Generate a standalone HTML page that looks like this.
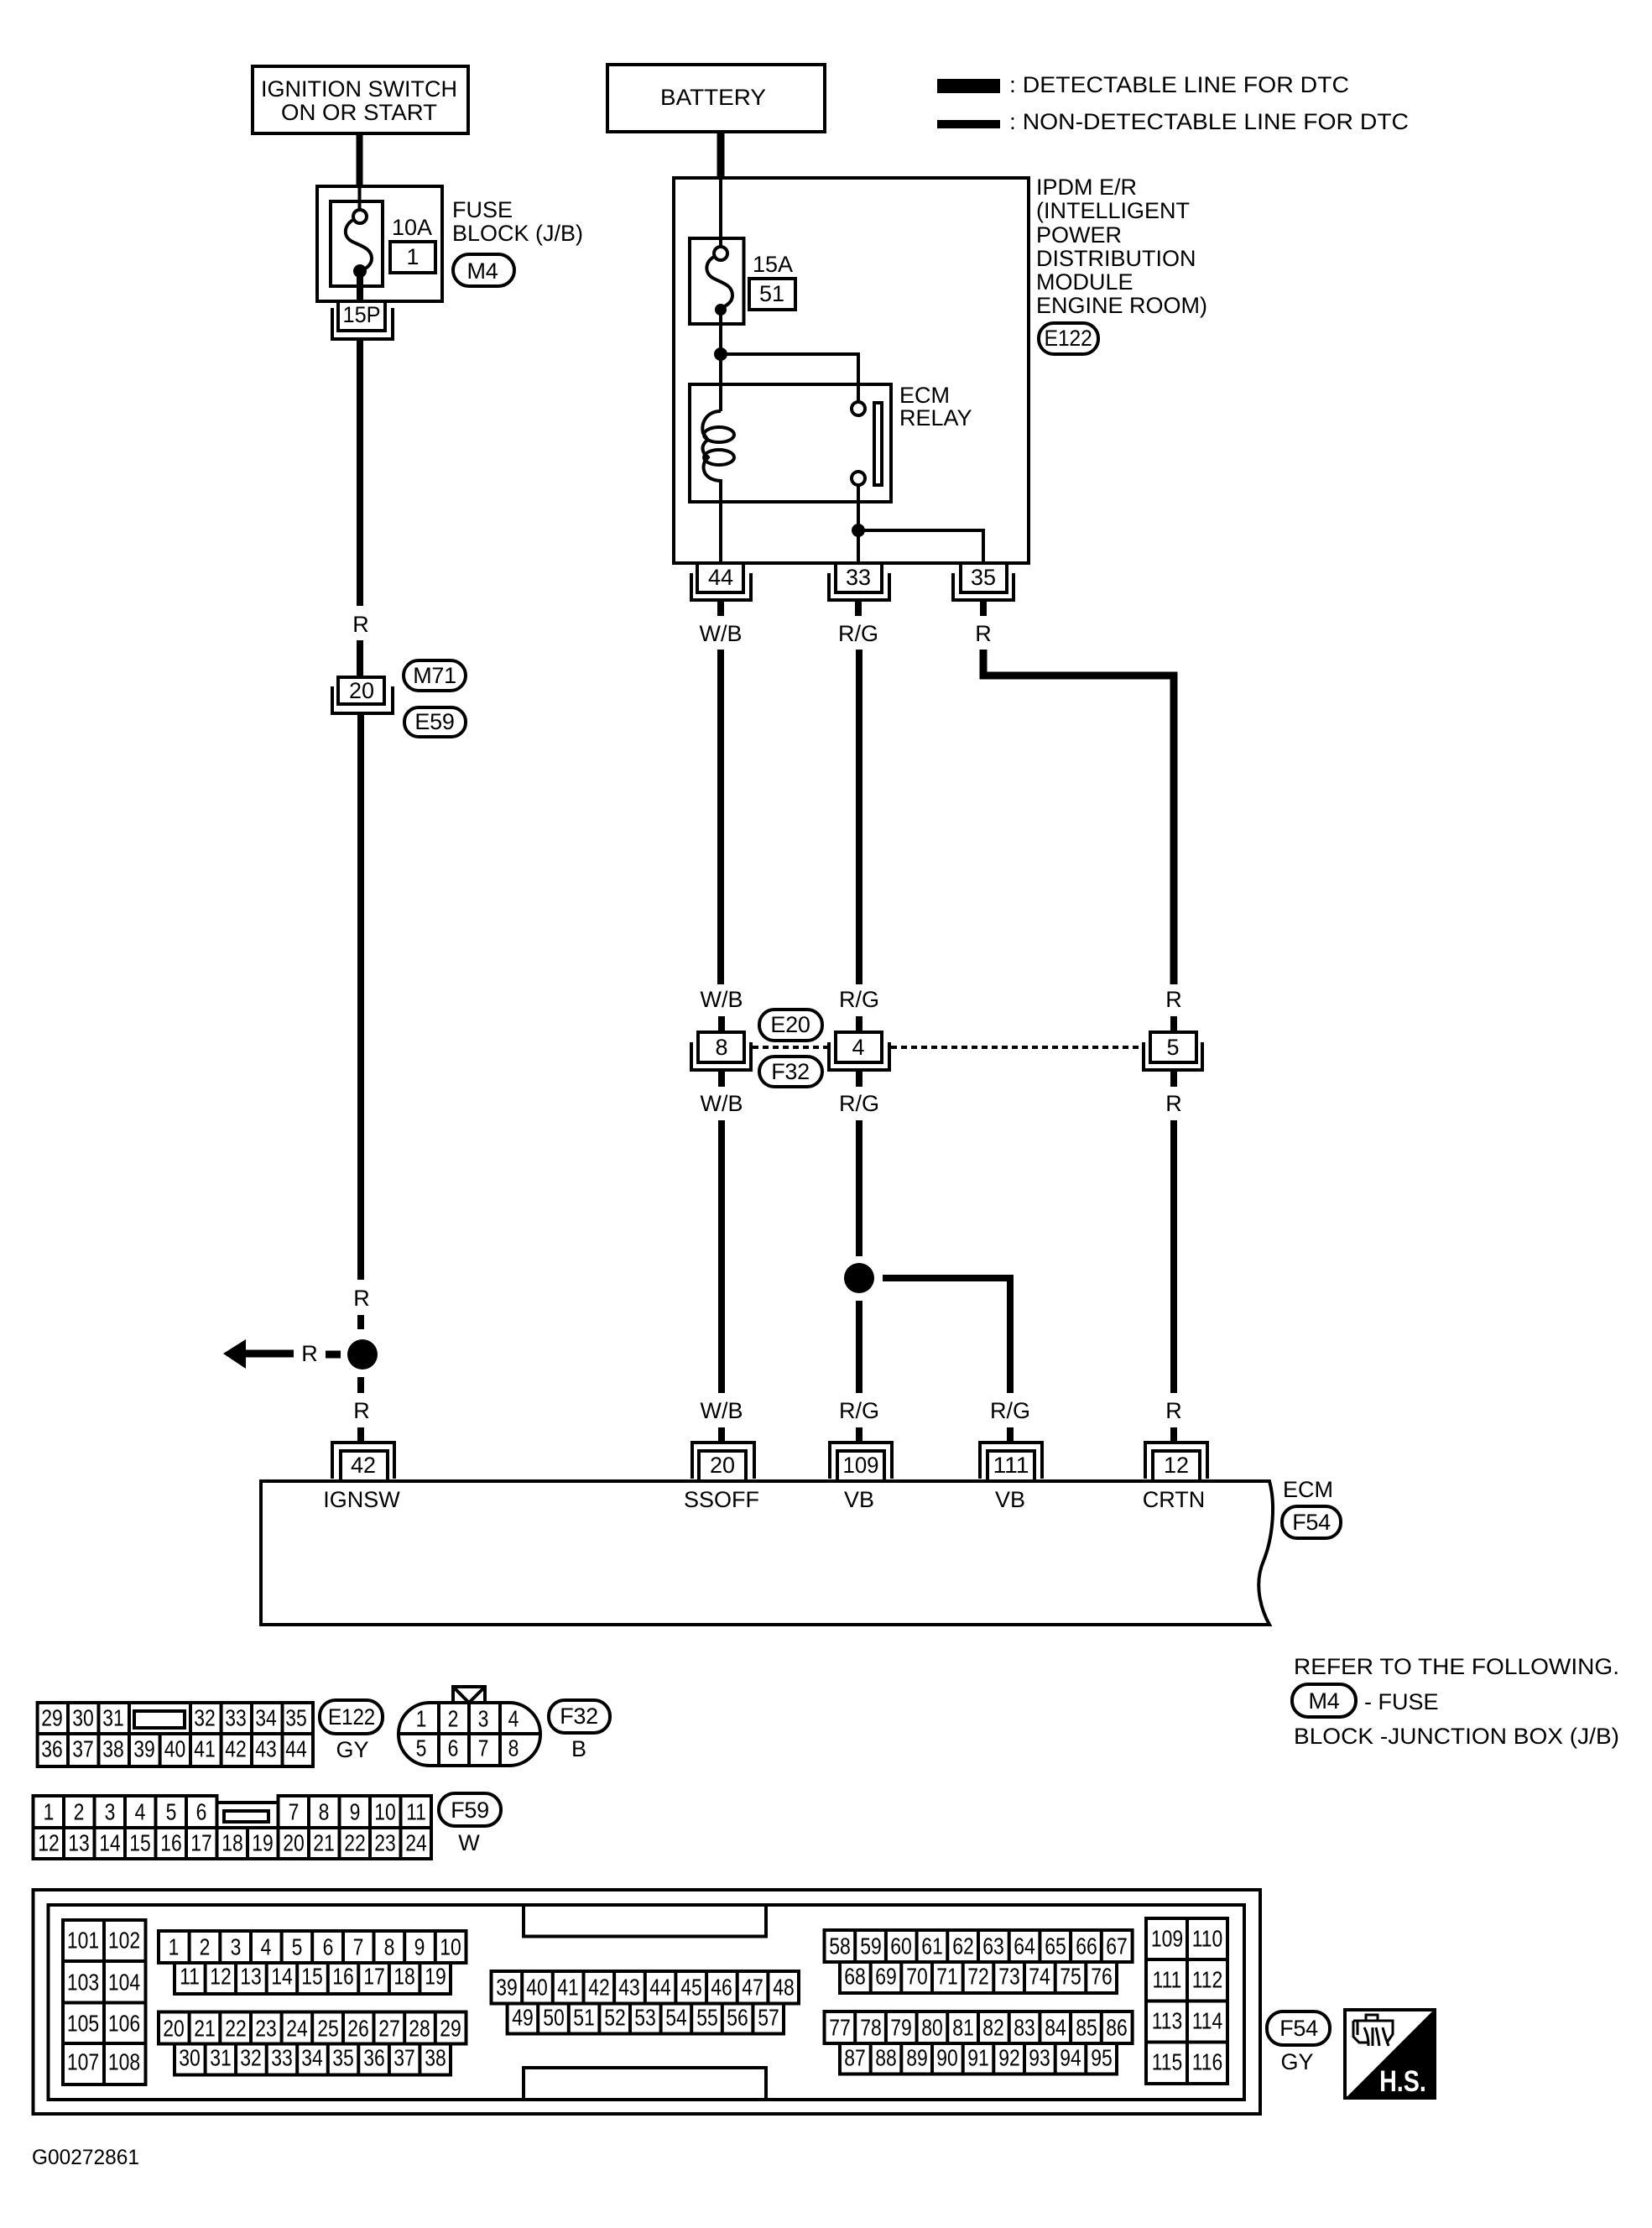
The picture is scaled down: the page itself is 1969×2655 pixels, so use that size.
<!DOCTYPE html>
<html>
<head>
<meta charset="utf-8">
<style>
html,body{margin:0;padding:0;background:#fff}
svg{display:block}
text{font-family:"Liberation Sans",Arial,sans-serif;font-size:27px;fill:#000;dominant-baseline:central;text-anchor:middle}
.l{text-anchor:start}
.n{font-size:27px}
.c{font-size:28px;transform-box:fill-box;transform-origin:center;transform:scaleX(.82)}
.o{font-size:27px;letter-spacing:-.3px}
.s{fill:none;stroke:#000;stroke-width:4}
.g{fill:none;stroke:#000;stroke-width:4}
.t{fill:none;stroke:#000;stroke-width:4}
.w{fill:none;stroke:#000;stroke-width:8}
.x{fill:none;stroke:#000;stroke-width:9}
.ov{fill:#fff;stroke:#000;stroke-width:4}
.b{fill:#fff;stroke:#000;stroke-width:4}
</style>
</head>
<body>
<svg xmlns="http://www.w3.org/2000/svg" width="1969" height="2655" viewBox="0 0 1969 2655">
<rect width="1969" height="2655" fill="#fff"/>

<!-- top boxes -->
<rect class="s" x="301" y="79" width="257" height="80"/>
<text x="428" y="106" textLength="234" lengthAdjust="spacingAndGlyphs">IGNITION SWITCH</text>
<text x="428" y="134" textLength="186" lengthAdjust="spacingAndGlyphs">ON OR START</text>
<rect class="s" x="724" y="77" width="259" height="80"/>
<text x="850" y="116" textLength="126" lengthAdjust="spacingAndGlyphs">BATTERY</text>

<!-- legend -->
<rect x="1117" y="94" width="75" height="17" fill="#000"/>
<rect x="1117" y="143" width="75" height="10" fill="#000"/>
<text class="l" x="1203" y="101" textLength="405" lengthAdjust="spacingAndGlyphs">: DETECTABLE LINE FOR DTC</text>
<text class="l" x="1203" y="145" textLength="476" lengthAdjust="spacingAndGlyphs">: NON-DETECTABLE LINE FOR DTC</text>

<!-- ignition fuse block -->
<path class="w" d="M428.500 159V222"/>
<rect class="s" x="378" y="222" width="149" height="137"/>
<rect class="s" x="394" y="240" width="62" height="101"/>
<path class="t" d="M428.500 222V250"/>
<circle class="b" cx="429" cy="258" r="8"/>
<path class="t" d="M421 262C410 268 408 282 420 288C430 293 443 296 443 308C443 316 436 320 430 323"/>
<circle cx="429" cy="323" r="8" fill="#000"/>
<path class="w" d="M429 325V359"/>
<text x="491" y="271">10A</text>
<rect class="s" x="465" y="288" width="54" height="37"/>
<text x="492" y="306" class="n">1</text>
<text class="l" x="539" y="250">FUSE</text>
<text class="l" x="539" y="278">BLOCK (J/B)</text>
<rect class="ov" x="540" y="303" width="73" height="38" rx="19"/>
<text x="575" y="323" class="o">M4</text>
<rect class="b" x="403" y="359" width="56" height="35"/>
<path class="s" d="M396 367V404H468V367"/>
<text x="431" y="375" class="n" textLength="45" lengthAdjust="spacingAndGlyphs">15P</text>

<!-- left wire -->
<path class="w" d="M429 404V722M429 763V806"/>
<text x="430" y="744">R</text>
<rect class="b" x="403" y="807" width="55" height="32"/>
<path class="s" d="M396 818V850H468V818"/>
<text x="431" y="823" class="n">20</text>
<rect class="ov" x="481" y="787" width="74" height="36" rx="18"/>
<text x="518" y="805" class="o">M71</text>
<rect class="ov" x="482" y="843" width="73" height="35" rx="17"/>
<text x="518" y="860" class="o">E59</text>
<path class="w" d="M430 850V1525M430 1567V1584M430 1641V1660M430 1701V1719"/>
<text x="431" y="1547">R</text>
<ellipse cx="432" cy="1614" rx="18" ry="18" fill="#000"/>
<text x="431" y="1681">R</text>
<path d="M266 1613L293 1596V1608.500H350V1617.500H293V1631Z" fill="#000"/>
<text x="369" y="1613">R</text>
<path class="x" d="M388 1614H406"/>

<!-- IPDM -->
<path class="x" d="M859 157V212"/>
<rect class="s" x="803" y="212" width="423" height="459"/>
<path class="t" d="M859 212V294"/>
<rect class="s" x="822" y="284" width="64.500" height="102"/>
<circle class="b" cx="859" cy="302" r="8"/>
<path class="t" d="M851 306C840 312 839 326 851 332C861 337 873 340 873 352C873 360 866 364 860 367"/>
<circle cx="859" cy="369" r="7" fill="#000"/>
<path class="t" d="M859 369V490"/>
<circle cx="859" cy="422" r="8" fill="#000"/>
<path class="t" d="M859 422H1023V479"/>
<text x="921" y="315">15A</text>
<rect class="s" x="893" y="332" width="55" height="37"/>
<text x="920" y="350" class="n">51</text>
<rect class="s" x="822" y="458" width="240" height="140"/>
<path class="t" d="M859 490C843 490 835 503 838 516L845 526M845 523C835 530 835 538 845 547M845 543C834 553 836 572 859 573V671"/>
<ellipse class="t" cx="857" cy="518" rx="18" ry="9"/>
<ellipse class="t" cx="857" cy="545" rx="18" ry="9"/>
<circle class="b" cx="1023" cy="487" r="8"/>
<circle class="b" cx="1023" cy="570" r="8"/>
<rect class="s" x="1042" y="480" width="9" height="98"/>
<path class="t" d="M1023 578V671"/>
<circle cx="1023" cy="632" r="8" fill="#000"/>
<path class="t" d="M1023 632H1172V671"/>
<text class="l" x="1072" y="471">ECM</text>
<text class="l" x="1072" y="498">RELAY</text>
<text class="l" x="1235" y="223">IPDM E/R</text>
<text class="l" x="1235" y="251">(INTELLIGENT</text>
<text class="l" x="1235" y="280">POWER</text>
<text class="l" x="1235" y="308">DISTRIBUTION</text>
<text class="l" x="1235" y="336">MODULE</text>
<text class="l" x="1235" y="364">ENGINE ROOM)</text>
<rect class="ov" x="1238" y="385" width="71" height="37" rx="18"/>
<text x="1273" y="403" class="o" textLength="57" lengthAdjust="spacingAndGlyphs">E122</text>

<!-- IPDM connectors -->
<rect class="b" x="831" y="671" width="55" height="35"/>
<path class="s" d="M824 683V715H895V683"/>
<text x="859" y="688" class="n">44</text>
<rect class="b" x="996" y="671" width="55" height="35"/>
<path class="s" d="M988 683V715H1060V683"/>
<text x="1023" y="688" class="n">33</text>
<rect class="b" x="1145" y="671" width="55" height="35"/>
<path class="s" d="M1136 683V715H1208V683"/>
<text x="1172" y="688" class="n">35</text>
<path class="w" d="M859 715V734M1023 715V734M1172 715V734"/>
<text x="859" y="755">W/B</text>
<text x="1023" y="755">R/G</text>
<text x="1172" y="755">R</text>

<!-- middle wires -->
<path class="w" d="M859 774V1173M1024 774V1173"/>
<path class="x" d="M1172 774V805H1399V1173"/>
<text x="860" y="1191">W/B</text>
<text x="1024" y="1191">R/G</text>
<text x="1399" y="1191">R</text>
<path class="w" d="M860 1211V1230M1024 1211V1230M1399 1211V1230"/>

<!-- middle connectors -->
<rect class="b" x="832" y="1230" width="55" height="36"/>
<path class="s" d="M824 1242V1275H895V1242"/>
<text x="860" y="1248" class="n">8</text>
<rect class="b" x="996" y="1230" width="55" height="36"/>
<path class="s" d="M988 1242V1275H1060V1242"/>
<text x="1023" y="1248" class="n">4</text>
<rect class="b" x="1371" y="1230" width="55" height="36"/>
<path class="s" d="M1363 1242V1275H1433V1242"/>
<text x="1398" y="1248" class="n">5</text>
<path d="M897 1248H986M1062 1248H1357" fill="none" stroke="#000" stroke-width="4" stroke-dasharray="7 5"/>
<rect class="ov" x="905" y="1203" width="75" height="37" rx="18"/>
<text x="942" y="1221" class="o">E20</text>
<rect class="ov" x="905" y="1259" width="75" height="36" rx="18"/>
<text x="942" y="1277" class="o">F32</text>
<path class="w" d="M860 1275V1295M1024 1275V1295M1399 1275V1295"/>
<text x="860" y="1315">W/B</text>
<text x="1024" y="1315">R/G</text>
<text x="1399" y="1315">R</text>

<!-- lower wires -->
<path class="w" d="M860 1335V1660M1024 1335V1497M1024 1550V1660M1399 1335V1660"/>
<circle cx="1024" cy="1523" r="18" fill="#000"/>
<path class="w" d="M1052 1523H1204V1660"/>
<text x="860" y="1681">W/B</text>
<text x="1024" y="1681">R/G</text>
<text x="1204" y="1681">R/G</text>
<text x="1399" y="1681">R</text>
<path class="w" d="M860 1701V1719M1024 1701V1719M1204 1701V1719M1399 1701V1719"/>

<!-- ECM -->
<path class="s" d="M396 1762V1719H470V1762M406 1765V1729H462V1765"/>
<text x="433" y="1746" class="n">42</text>
<path class="s" d="M825 1762V1719H899V1762M833 1765V1729H889V1765"/>
<text x="861" y="1746" class="n">20</text>
<path class="s" d="M989 1762V1719H1063V1762M998 1765V1729H1054V1765"/>
<text x="1026" y="1746" class="n" textLength="43" lengthAdjust="spacingAndGlyphs">109</text>
<path class="s" d="M1168 1762V1719H1242V1762M1177 1765V1729H1233V1765"/>
<text x="1205" y="1746" class="n" textLength="43" lengthAdjust="spacingAndGlyphs">111</text>
<path class="s" d="M1365 1762V1719H1439V1762M1374 1765V1729H1430V1765"/>
<text x="1402" y="1746" class="n">12</text>
<path class="s" d="M311 1765H1513C1520 1790 1518 1830 1506 1860C1494 1888 1503 1918 1513 1936H311Z"/>
<text x="431" y="1787">IGNSW</text>
<text x="860" y="1787">SSOFF</text>
<text x="1024" y="1787">VB</text>
<text x="1204" y="1787">VB</text>
<text x="1399" y="1787">CRTN</text>
<text class="l" x="1529" y="1775">ECM</text>
<rect class="ov" x="1528" y="1795" width="70" height="38" rx="18"/>
<text x="1563" y="1814" class="o">F54</text>

<!-- refer -->
<text class="l" x="1542" y="1986" textLength="388" lengthAdjust="spacingAndGlyphs">REFER TO THE FOLLOWING.</text>
<rect class="ov" x="1540" y="2007" width="76" height="39" rx="19"/>
<text x="1578" y="2027" class="o">M4</text>
<text class="l" x="1626" y="2028">- FUSE</text>
<text class="l" x="1542" y="2069" textLength="388" lengthAdjust="spacingAndGlyphs">BLOCK -JUNCTION BOX (J/B)</text>

<!-- E122 connector -->
<path class="g" d="M44.600 2029H373V2105H44.600ZM44.600 2066H373M81 2029V2105M117.500 2029V2105M154 2029V2105M190.600 2066V2105M227 2029V2105M263.600 2029V2105M300 2029V2105M336.500 2029V2105"/>
<rect class="s" x="160" y="2039" width="60" height="20"/>
<text class="c" x="62" y="2048">29</text><text class="c" x="99" y="2048">30</text><text class="c" x="135" y="2048">31</text><text class="c" x="244" y="2048">32</text><text class="c" x="281" y="2048">33</text><text class="c" x="317" y="2048">34</text><text class="c" x="353" y="2048">35</text>
<text class="c" x="62" y="2085">36</text><text class="c" x="99" y="2085">37</text><text class="c" x="135" y="2085">38</text><text class="c" x="172" y="2085">39</text><text class="c" x="208.500" y="2085">40</text><text class="c" x="244" y="2085">41</text><text class="c" x="281" y="2085">42</text><text class="c" x="317" y="2085">43</text><text class="c" x="353" y="2085">44</text>
<rect class="ov" x="381" y="2026" width="75" height="40" rx="19"/>
<text x="419" y="2046" class="o" textLength="56" lengthAdjust="spacingAndGlyphs">E122</text>
<text x="420" y="2085">GY</text>

<!-- F32 connector -->
<path class="g" d="M540 2029V2010H578V2029M540 2010L559 2029L578 2010"/>
<rect class="g" x="475" y="2029" width="169" height="75" rx="37"/>
<path class="g" d="M475 2066H644M523 2029V2104M559 2029V2104M596 2029V2104"/>
<text class="c" x="502" y="2049">1</text><text class="c" x="540" y="2049">2</text><text class="c" x="576" y="2049">3</text><text class="c" x="612" y="2049">4</text>
<text class="c" x="502" y="2084">5</text><text class="c" x="540" y="2084">6</text><text class="c" x="576" y="2084">7</text><text class="c" x="612" y="2084">8</text>
<rect class="ov" x="654" y="2026" width="73" height="39" rx="19"/>
<text x="690" y="2045" class="o">F32</text>
<text x="690" y="2084">B</text>

<!-- F59 connector -->
<path class="g" d="M39.500 2140H258.500V2148H331.500V2140H514V2215H39.500ZM39.500 2178H514M76 2140V2215M112.500 2140V2215M149 2140V2215M185.500 2140V2215M222 2140V2215M258.500 2140V2215M295 2178V2215M331.500 2140V2215M368 2140V2215M404.500 2140V2215M441 2140V2215M477.500 2140V2215"/>
<rect class="s" x="267" y="2158" width="53" height="13"/>
<text class="c" x="58" y="2160">1</text><text class="c" x="94" y="2160">2</text><text class="c" x="131" y="2160">3</text><text class="c" x="167" y="2160">4</text><text class="c" x="204" y="2160">5</text><text class="c" x="240" y="2160">6</text><text class="c" x="350" y="2160">7</text><text class="c" x="386" y="2160">8</text><text class="c" x="423" y="2160">9</text><text class="c" x="459" y="2160">10</text><text class="c" x="496" y="2160">11</text>
<text class="c" x="58" y="2197">12</text><text class="c" x="94" y="2197">13</text><text class="c" x="131" y="2197">14</text><text class="c" x="167" y="2197">15</text><text class="c" x="204" y="2197">16</text><text class="c" x="240" y="2197">17</text><text class="c" x="277" y="2197">18</text><text class="c" x="313" y="2197">19</text><text class="c" x="350" y="2197">20</text><text class="c" x="386" y="2197">21</text><text class="c" x="423" y="2197">22</text><text class="c" x="459" y="2197">23</text><text class="c" x="496" y="2197">24</text>
<rect class="ov" x="523" y="2137" width="74" height="39" rx="19"/>
<text x="560" y="2157" class="o">F59</text>
<text x="559" y="2196">W</text>

<!-- F54 connector -->
<rect class="s" x="39.500" y="2252" width="1462.500" height="267"/>
<rect class="s" x="57.500" y="2270" width="1425.500" height="232"/>
<path class="s" d="M624 2270V2307.500H913V2270M624 2502V2464H913V2502"/>

<path class="g" d="M75 2288H173.500V2484H75ZM124 2288V2484M75 2337H173.500M75 2386.500H173.500M75 2435H173.500"/>
<text class="c" x="99" y="2313">101</text><text class="c" x="148" y="2313">102</text>
<text class="c" x="99" y="2363">103</text><text class="c" x="148" y="2363">104</text>
<text class="c" x="99" y="2412">105</text><text class="c" x="148" y="2412">106</text>
<text class="c" x="99" y="2458">107</text><text class="c" x="148" y="2458">108</text>

<path class="g" d="M189 2301H555.500V2339H189ZM225.600 2301V2339M262.300 2301V2339M299 2301V2339M335.600 2301V2339M372.200 2301V2339M409 2301V2339M445.500 2301V2339M482.200 2301V2339M518.800 2301V2339"/>
<path class="g" d="M208 2339V2376H537V2339M244.600 2339V2376M281.100 2339V2376M317.700 2339V2376M354.200 2339V2376M390.800 2339V2376M427.300 2339V2376M463.900 2339V2376M500.400 2339V2376"/>
<text class="c" x="207" y="2321">1</text><text class="c" x="244" y="2321">2</text><text class="c" x="281" y="2321">3</text><text class="c" x="317" y="2321">4</text><text class="c" x="354" y="2321">5</text><text class="c" x="391" y="2321">6</text><text class="c" x="427" y="2321">7</text><text class="c" x="464" y="2321">8</text><text class="c" x="500" y="2321">9</text><text class="c" x="537" y="2321">10</text>
<text class="c" x="226" y="2356">11</text><text class="c" x="263" y="2356">12</text><text class="c" x="299" y="2356">13</text><text class="c" x="336" y="2356">14</text><text class="c" x="372" y="2356">15</text><text class="c" x="409" y="2356">16</text><text class="c" x="446" y="2356">17</text><text class="c" x="482" y="2356">18</text><text class="c" x="519" y="2356">19</text>

<path class="g" d="M189 2397.500H555.500V2435.500H189ZM225.600 2397.500V2435.500M262.300 2397.500V2435.500M299 2397.500V2435.500M335.600 2397.500V2435.500M372.200 2397.500V2435.500M409 2397.500V2435.500M445.500 2397.500V2435.500M482.200 2397.500V2435.500M518.800 2397.500V2435.500"/>
<path class="g" d="M208 2435.500V2472.500H537V2435.500M244.600 2435.500V2472.500M281.100 2435.500V2472.500M317.700 2435.500V2472.500M354.200 2435.500V2472.500M390.800 2435.500V2472.500M427.300 2435.500V2472.500M463.900 2435.500V2472.500M500.400 2435.500V2472.500"/>
<text class="c" x="207" y="2418">20</text><text class="c" x="244" y="2418">21</text><text class="c" x="281" y="2418">22</text><text class="c" x="317" y="2418">23</text><text class="c" x="354" y="2418">24</text><text class="c" x="391" y="2418">25</text><text class="c" x="427" y="2418">26</text><text class="c" x="464" y="2418">27</text><text class="c" x="500" y="2418">28</text><text class="c" x="537" y="2418">29</text>
<text class="c" x="226" y="2453">30</text><text class="c" x="263" y="2453">31</text><text class="c" x="299" y="2453">32</text><text class="c" x="336" y="2453">33</text><text class="c" x="372" y="2453">34</text><text class="c" x="409" y="2453">35</text><text class="c" x="446" y="2453">36</text><text class="c" x="482" y="2453">37</text><text class="c" x="519" y="2453">38</text>

<path class="g" d="M585.500 2349H952V2387.500H585.500ZM622.200 2349V2387.500M658.800 2349V2387.500M695.500 2349V2387.500M732.100 2349V2387.500M768.800 2349V2387.500M805.400 2349V2387.500M842.100 2349V2387.500M878.700 2349V2387.500M915.400 2349V2387.500"/>
<path class="g" d="M604.600 2387.500V2423.500H934V2387.500M641.200 2387.500V2423.500M677.800 2387.500V2423.500M714.400 2387.500V2423.500M751 2387.500V2423.500M787.600 2387.500V2423.500M824.200 2387.500V2423.500M860.800 2387.500V2423.500M897.400 2387.500V2423.500"/>
<text class="c" x="604" y="2369">39</text><text class="c" x="640" y="2369">40</text><text class="c" x="677" y="2369">41</text><text class="c" x="714" y="2369">42</text><text class="c" x="750" y="2369">43</text><text class="c" x="787" y="2369">44</text><text class="c" x="824" y="2369">45</text><text class="c" x="860" y="2369">46</text><text class="c" x="897" y="2369">47</text><text class="c" x="934" y="2369">48</text>
<text class="c" x="623" y="2405">49</text><text class="c" x="660" y="2405">50</text><text class="c" x="696" y="2405">51</text><text class="c" x="733" y="2405">52</text><text class="c" x="769" y="2405">53</text><text class="c" x="806" y="2405">54</text><text class="c" x="843" y="2405">55</text><text class="c" x="879" y="2405">56</text><text class="c" x="916" y="2405">57</text>

<path class="g" d="M982.500 2300H1349.600V2338H982.500ZM1019.200 2300V2338M1055.900 2300V2338M1092.600 2300V2338M1129.300 2300V2338M1166 2300V2338M1202.700 2300V2338M1239.400 2300V2338M1276.100 2300V2338M1312.800 2300V2338"/>
<path class="g" d="M1001 2338V2375H1331V2338M1037.700 2338V2375M1074.300 2338V2375M1111 2338V2375M1147.700 2338V2375M1184.300 2338V2375M1221 2338V2375M1257.700 2338V2375M1294.300 2338V2375"/>
<text class="c" x="1001" y="2320">58</text><text class="c" x="1038" y="2320">59</text><text class="c" x="1074" y="2320">60</text><text class="c" x="1111" y="2320">61</text><text class="c" x="1148" y="2320">62</text><text class="c" x="1184" y="2320">63</text><text class="c" x="1221" y="2320">64</text><text class="c" x="1258" y="2320">65</text><text class="c" x="1295" y="2320">66</text><text class="c" x="1331" y="2320">67</text>
<text class="c" x="1019" y="2356">68</text><text class="c" x="1056" y="2356">69</text><text class="c" x="1093" y="2356">70</text><text class="c" x="1129" y="2356">71</text><text class="c" x="1166" y="2356">72</text><text class="c" x="1203" y="2356">73</text><text class="c" x="1239" y="2356">74</text><text class="c" x="1276" y="2356">75</text><text class="c" x="1313" y="2356">76</text>

<path class="g" d="M982.500 2397H1349.600V2435H982.500ZM1019.200 2397V2435M1055.900 2397V2435M1092.600 2397V2435M1129.300 2397V2435M1166 2397V2435M1202.700 2397V2435M1239.400 2397V2435M1276.100 2397V2435M1312.800 2397V2435"/>
<path class="g" d="M1001 2435V2471.500H1331V2435M1037.700 2435V2471.500M1074.300 2435V2471.500M1111 2435V2471.500M1147.700 2435V2471.500M1184.300 2435V2471.500M1221 2435V2471.500M1257.700 2435V2471.500M1294.300 2435V2471.500"/>
<text class="c" x="1001" y="2417">77</text><text class="c" x="1038" y="2417">78</text><text class="c" x="1074" y="2417">79</text><text class="c" x="1111" y="2417">80</text><text class="c" x="1148" y="2417">81</text><text class="c" x="1184" y="2417">82</text><text class="c" x="1221" y="2417">83</text><text class="c" x="1258" y="2417">84</text><text class="c" x="1295" y="2417">85</text><text class="c" x="1331" y="2417">86</text>
<text class="c" x="1019" y="2453">87</text><text class="c" x="1056" y="2453">88</text><text class="c" x="1093" y="2453">89</text><text class="c" x="1129" y="2453">90</text><text class="c" x="1166" y="2453">91</text><text class="c" x="1203" y="2453">92</text><text class="c" x="1239" y="2453">93</text><text class="c" x="1276" y="2453">94</text><text class="c" x="1313" y="2453">95</text>

<path class="g" d="M1366 2286H1463V2483H1366ZM1415 2286V2483M1366 2335H1463M1366 2384.500H1463M1366 2433.500H1463"/>
<text class="c" x="1391" y="2311">109</text><text class="c" x="1439" y="2311">110</text>
<text class="c" x="1391" y="2360">111</text><text class="c" x="1439" y="2360">112</text>
<text class="c" x="1391" y="2409">113</text><text class="c" x="1439" y="2409">114</text>
<text class="c" x="1391" y="2458">115</text><text class="c" x="1439" y="2458">116</text>

<rect class="ov" x="1510" y="2397" width="75" height="40" rx="19"/>
<text x="1548" y="2417" class="o">F54</text>
<text x="1546" y="2457">GY</text>

<!-- H.S. icon -->
<rect x="1603" y="2395" width="107" height="105" fill="#fff" stroke="#000" stroke-width="4"/>
<path d="M1710 2394V2500H1604Z" fill="#000"/>
<path d="M1613 2408H1660V2424L1653 2434M1613 2408V2427L1620 2434H1630M1618 2408V2425M1628 2401H1642V2408H1628ZM1626 2416C1630 2424 1631 2430 1631 2438M1636 2416V2438M1648 2416C1650 2424 1652 2430 1655 2438M1640 2416C1642 2424 1643 2430 1644 2438" fill="none" stroke="#000" stroke-width="3"/>
<text x="1672" y="2480" style="font-weight:bold;font-size:35px;fill:#fff;transform-box:fill-box;transform-origin:center;transform:scaleX(.82)">H.S.</text>

<text class="l" x="38" y="2571" style="font-size:25px" textLength="128" lengthAdjust="spacingAndGlyphs">G00272861</text>
</svg>
</body>
</html>
